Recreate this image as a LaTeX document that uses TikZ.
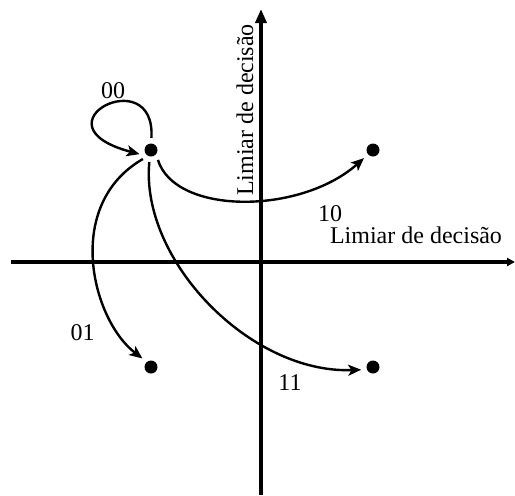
\documentclass[tikz,border=0pt]{standalone}
\usepackage{fontspec}
\setmainfont{Liberation Serif}
\usetikzlibrary{arrows.meta}
\begin{document}
\begin{tikzpicture}[x=0.5pt,y=0.5pt,
  dot/.style={circle,fill=black,inner sep=0pt,minimum size=6.5pt,outer sep=2.8pt},
  axisline/.style={line width=2pt},
  conn/.style={line width=1.2pt,-{Stealth[length=6.5pt,width=5.5pt,inset=1.6pt]}},
  lbl/.style={font=\fontsize{12}{14}\selectfont,inner sep=0pt}]
\useasboundingbox (0,0) rectangle (515,-495);
% axes
\coordinate (xs) at (11,-262);
\coordinate (xe) at (515,-262);
\coordinate (ys) at (261,-495);
\coordinate (ye) at (261,-9);
\draw[axisline,-{Triangle[length=4pt,width=4pt]}] (xs) -- (xe);
\draw[axisline,-{Triangle[length=7pt,width=5.5pt]}] (ys) -- (ye);
\node[lbl,anchor=base] (hl) at (416,-243) {Limiar de decisão};
\node[lbl,anchor=base,rotate=90] (vl) at (253,-110) {Limiar de decisão};
% dots
\node[dot] (d1) at (151,-150) {};
\node[dot] (d2) at (373,-150) {};
\node[dot] (d3) at (151,-367) {};
\node[dot] (d4) at (373,-367) {};
% transitions
\draw[conn] (d1.88) .. controls (156,-60) and (30,-125) .. (d1.200);
\draw[conn] (d1.-55) .. controls (175,-215) and (300,-215) .. (d2.222);
\draw[conn] (d1.228) .. controls (63,-205) and (92,-320) .. (d3.135);
\draw[conn] (d1.262) .. controls (140,-260) and (250,-374) .. (d4.193);
% labels
\node[lbl] (l00) at (113,-90.5) {00};
\node[lbl] (l10) at (330,-214) {10};
\node[lbl] (l01) at (82.5,-333) {01};
\node[lbl] (l11) at (290,-383) {11};
\end{tikzpicture}
\end{document}
